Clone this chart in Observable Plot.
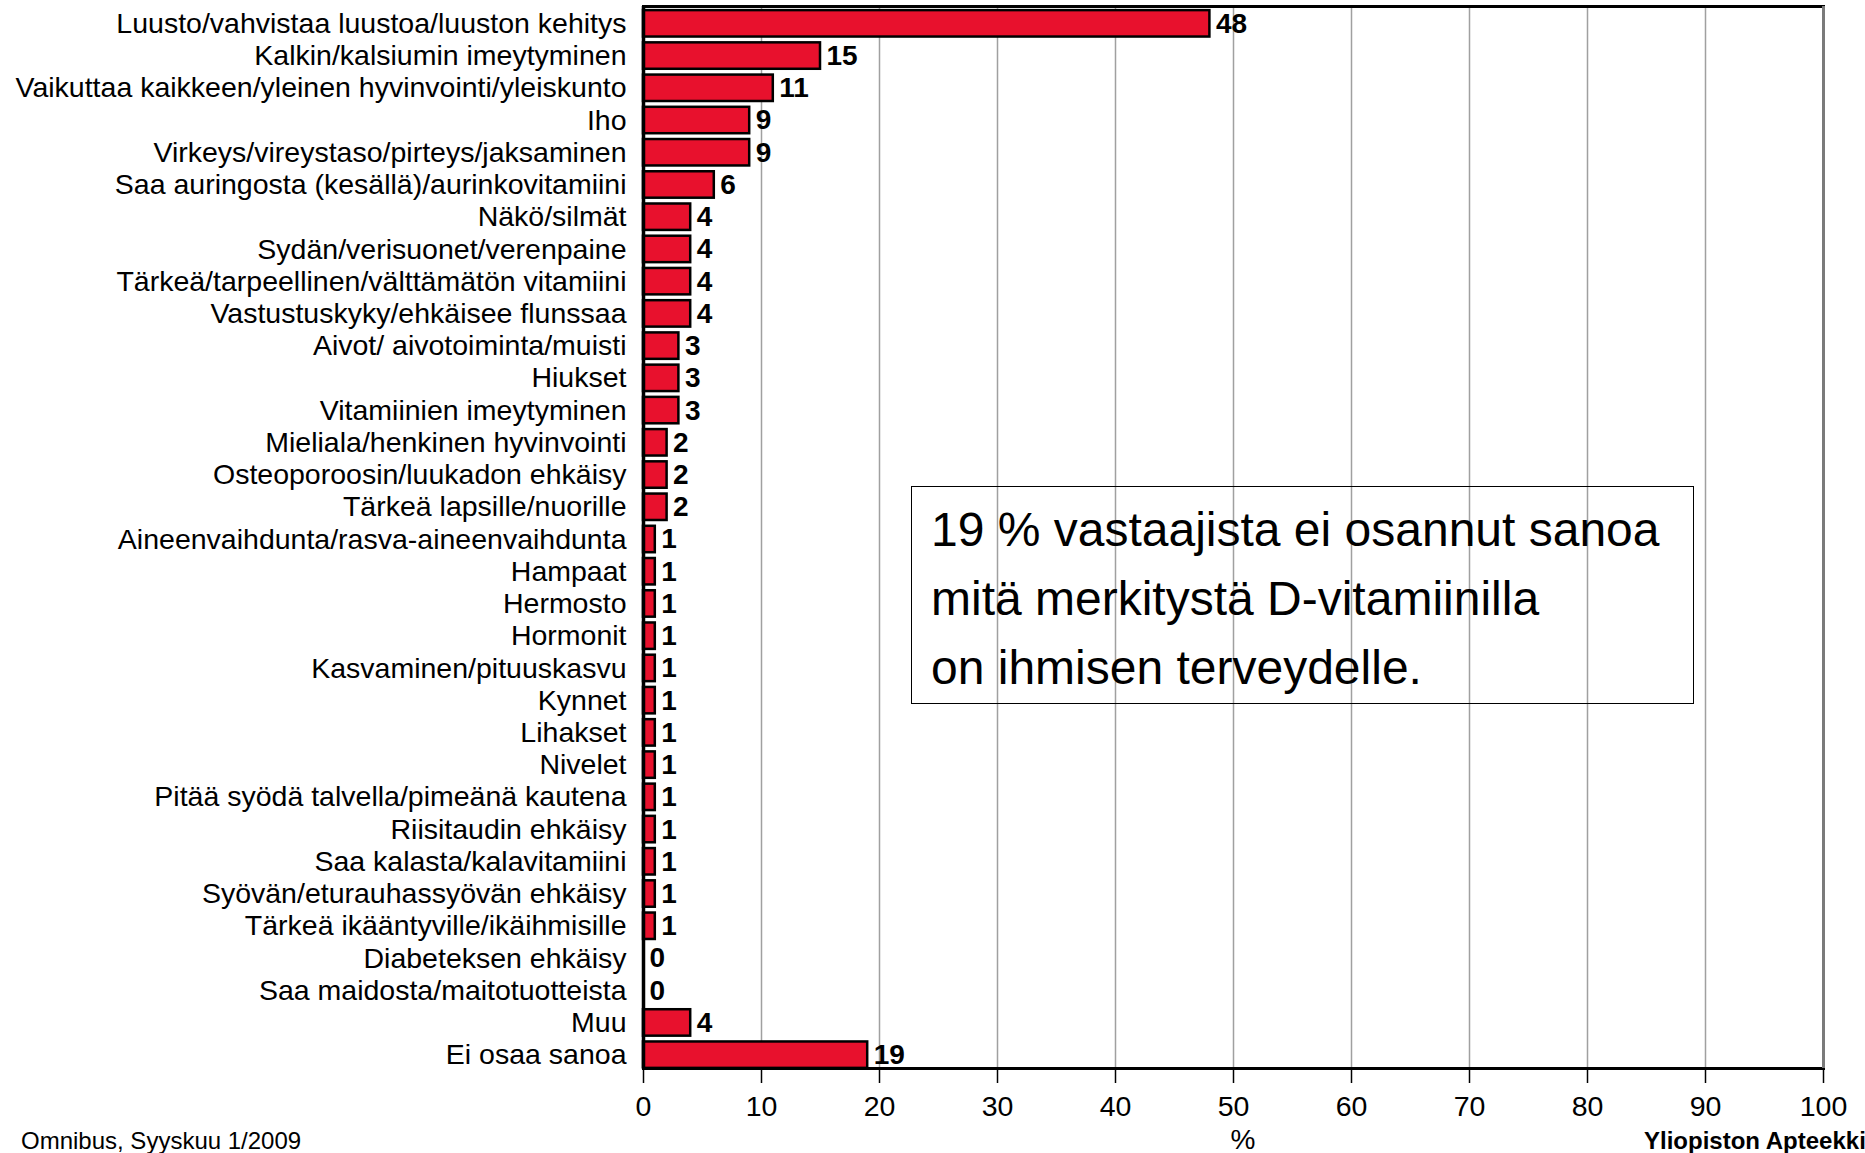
<!DOCTYPE html>
<html>
<head>
<meta charset="utf-8">
<script src="https://cdn.jsdelivr.net/npm/d3@7"></script>
<script src="https://cdn.jsdelivr.net/npm/@observablehq/plot@0.6"></script>
<style>
  html, body { margin: 0; padding: 0; background: #fff; overflow: hidden; }
  #wrap { position: relative; width: 1865px; height: 1153px; font-family: "Liberation Sans", Arial, sans-serif; color: #000; }
  #wrap svg { position: absolute; left: 0; top: 0; }
  .abs { position: absolute; white-space: nowrap; line-height: 1; }
  #note { position: absolute; left: 911px; top: 486px; width: 783px; height: 218px; border: 1.5px solid #000;
          font-size: 48px; line-height: 69px; padding: 8px 0 0 19px; box-sizing: border-box; white-space: nowrap; }
</style>
</head>
<body>
<div id="wrap"></div>
<script>
const categories = [
  "Luusto/vahvistaa luustoa/luuston kehitys",
  "Kalkin/kalsiumin imeytyminen",
  "Vaikuttaa kaikkeen/yleinen hyvinvointi/yleiskunto",
  "Iho",
  "Virkeys/vireystaso/pirteys/jaksaminen",
  "Saa auringosta (kesällä)/aurinkovitamiini",
  "Näkö/silmät",
  "Sydän/verisuonet/verenpaine",
  "Tärkeä/tarpeellinen/välttämätön vitamiini",
  "Vastustuskyky/ehkäisee flunssaa",
  "Aivot/ aivotoiminta/muisti",
  "Hiukset",
  "Vitamiinien imeytyminen",
  "Mieliala/henkinen hyvinvointi",
  "Osteoporoosin/luukadon ehkäisy",
  "Tärkeä lapsille/nuorille",
  "Aineenvaihdunta/rasva-aineenvaihdunta",
  "Hampaat",
  "Hermosto",
  "Hormonit",
  "Kasvaminen/pituuskasvu",
  "Kynnet",
  "Lihakset",
  "Nivelet",
  "Pitää syödä talvella/pimeänä kautena",
  "Riisitaudin ehkäisy",
  "Saa kalasta/kalavitamiini",
  "Syövän/eturauhassyövän ehkäisy",
  "Tärkeä ikääntyville/ikäihmisille",
  "Diabeteksen ehkäisy",
  "Saa maidosta/maitotuotteista",
  "Muu",
  "Ei osaa sanoa"
];
const values = [48, 15, 11, 9, 9, 6, 4, 4, 4, 4, 3, 3, 3, 2, 2, 2, 1, 1, 1, 1, 1, 1, 1, 1, 1, 1, 1, 1, 1, 0, 0, 4, 19];
const xTicks = [0, 10, 20, 30, 40, 50, 60, 70, 80, 90, 100];
const gridTicks = [10, 20, 30, 40, 50, 60, 70, 80, 90];
const xLabel = "%";
const noteLines = ["19 % vastaajista ei osannut sanoa", "mitä merkitystä D-vitamiinilla", "on ihmisen terveydelle."];
const sourceText = "Omnibus, Syyskuu 1/2009";
const brandText = "Yliopiston Apteekki";

const data = categories.map((c, i) => ({category: c, value: values[i]}));

const chart = Plot.plot({
  width: 1865,
  height: 1153,
  marginLeft: 643,
  marginRight: 42,
  marginTop: 6,
  marginBottom: 85,
  style: {fontFamily: "'Liberation Sans', Arial, sans-serif", fontSize: "28.5px", color: "#000", background: "transparent"},
  x: {domain: [0, 100]},
  y: {domain: categories, range: [8.5, 1069.5], paddingInner: 0.18, paddingOuter: 0.05, round: false},
  marks: [
    Plot.gridX(gridTicks, {stroke: "#a0a0a0", strokeOpacity: 1, strokeWidth: 1.5}),
    Plot.barX(data, {x: "value", y: "category", fill: "#e8112d", stroke: "#000", strokeWidth: 2.5}),
    Plot.text(data, {x: "value", y: "category", text: d => String(d.value), textAnchor: "start", dx: 6, fontWeight: "bold", fontSize: 28}),
    Plot.frame({stroke: "#000", strokeWidth: 3}),
    Plot.ruleX([100], {stroke: "#7a7a7a", strokeWidth: 3}),
    Plot.ruleX([0], {stroke: "#000", strokeWidth: 3.5}),
    Plot.axisX(xTicks, {tickSize: 15, tickPadding: 12, strokeWidth: 1.5, fontSize: 28.5, label: null}),
    Plot.axisY({tickSize: 0, tickPadding: 17, fontSize: 28.5, label: null})
  ]
});

const wrap = document.getElementById("wrap");
wrap.appendChild(chart);

const note = document.createElement("div");
note.id = "note";
note.innerHTML = noteLines.join("<br>");
wrap.appendChild(note);

function addText(txt, left, top, size, weight, anchorCenter) {
  const d = document.createElement("div");
  d.className = "abs";
  d.textContent = txt;
  d.style.fontSize = size + "px";
  d.style.fontWeight = weight;
  d.style.top = top + "px";
  d.style.left = left + "px";
  if (anchorCenter) d.style.transform = "translateX(-50%)";
  wrap.appendChild(d);
}
addText(sourceText, 21, 1129, 24, "normal", false);
addText(brandText, 1644, 1129, 24, "bold", false);
addText(xLabel, 1243, 1126, 28, "normal", true);
</script>
</body>
</html>
